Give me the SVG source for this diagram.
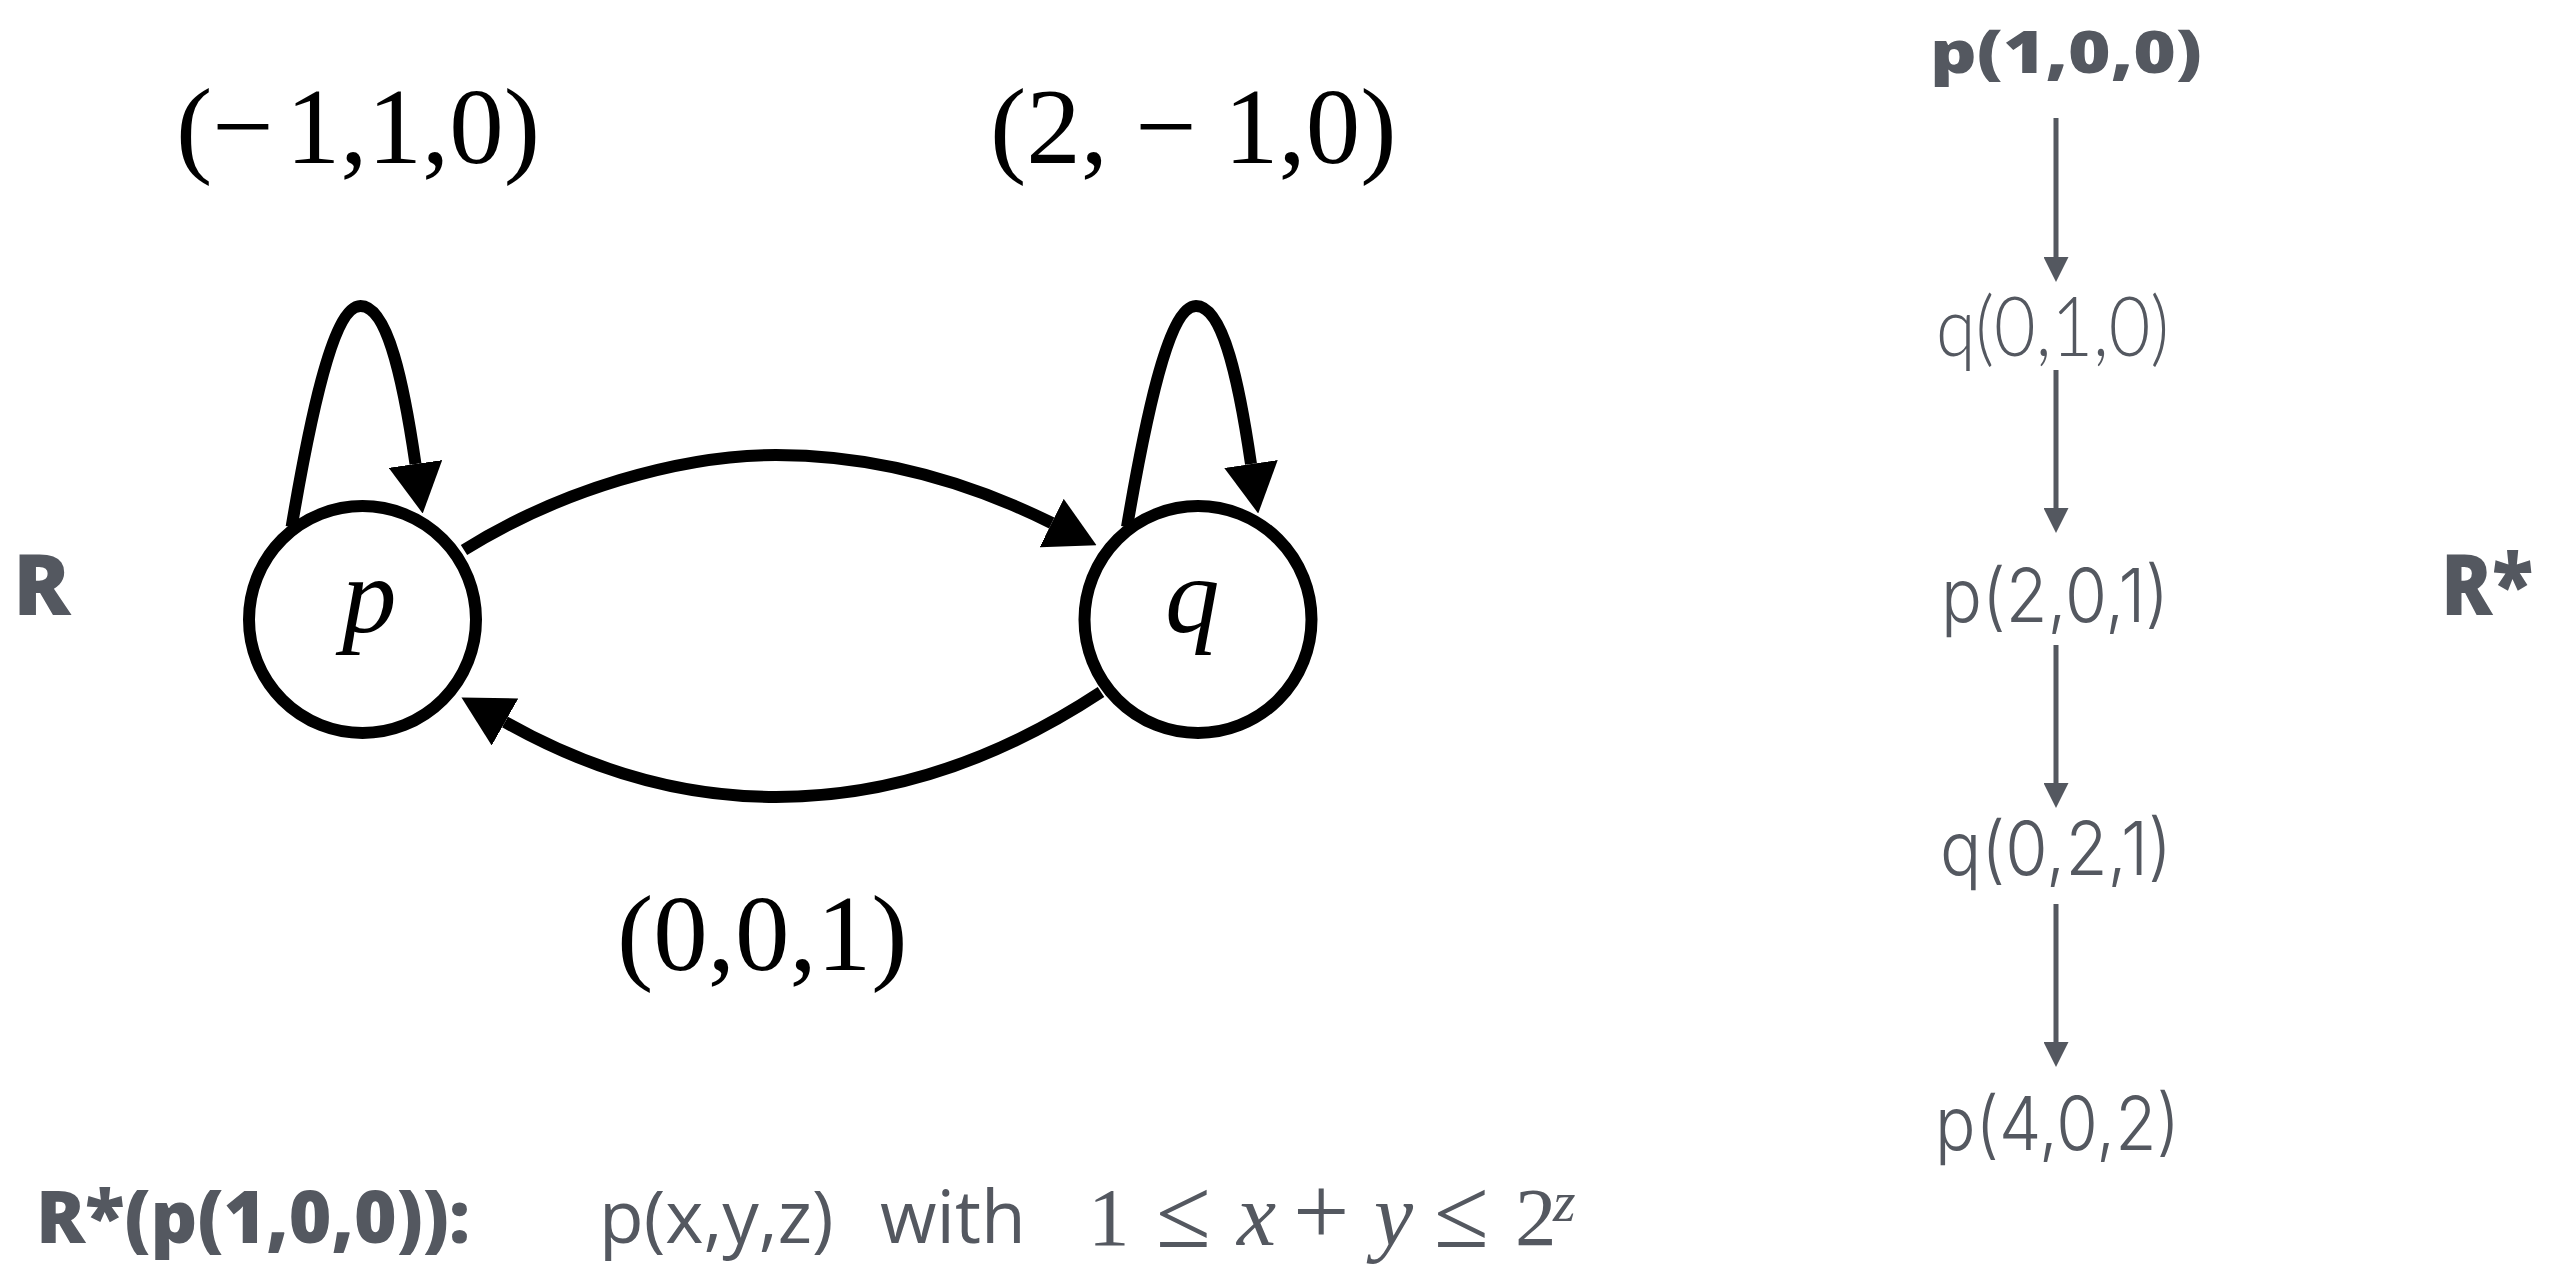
<svg xmlns="http://www.w3.org/2000/svg" width="2561" height="1264" viewBox="0 0 2561 1264">
<style>
.state{fill:#fff;stroke:#000;stroke-width:12}
.edge{fill:none;stroke:#000;stroke-width:12}
.gedge{fill:none;stroke:#545860;stroke-width:5}
.tms{font-family:"Liberation Serif","Times New Roman",serif;font-size:109px;fill:#000}
.it{font-style:italic}
.gray{fill:#545860}
.heavy{font-family:"Open Sans","Noto Sans",sans-serif;font-weight:800}
.light{font-family:Inter,Roboto,"Liberation Sans",sans-serif;font-weight:300;font-size:74px}
.osans{font-family:"Open Sans","Noto Sans",sans-serif}
.math{font-family:"Liberation Serif","Times New Roman",serif;font-size:83px;fill:#545860}
.rel{font-size:100px}
</style>
<defs>
<marker id="ah" markerUnits="userSpaceOnUse" markerWidth="50" markerHeight="54" refX="0" refY="27" orient="auto" viewBox="0 0 50 54"><path d="M0,0 L50,27 L0,54 Z" fill="#000"/></marker>
<marker id="ahg" markerUnits="userSpaceOnUse" markerWidth="25" markerHeight="25" refX="0" refY="12.5" orient="auto" viewBox="0 0 25 25"><path d="M0,0 L25,12.5 L0,25 Z" fill="#545860"/></marker>
</defs>
<rect width="2561" height="1264" fill="#fff"/>

<text id="label-R" class="heavy gray" x="13" y="615" font-size="85">R</text>

<g id="connectors">
<path id="loop-p" class="edge" marker-end="url(#ah)" d="M291.6 527 C308 430 332 306 360.5 306 C388 306 404 385 415.5 464"/>
<path id="loop-q" class="edge" marker-end="url(#ah)" d="M1127 527 C1143.5 430 1167.5 306 1196 306 C1223.5 306 1239.5 385 1251 464"/>
<path id="edge-pq" class="edge" marker-end="url(#ah)" d="M464 550 C560 490 680 455 776 455 C880 455 975 485 1051.7 523"/>
<path id="edge-qp" class="edge" marker-end="url(#ah)" d="M1101 692 C1010 752 900 797 776 797 C680 797 590 770 505 722"/>
<path class="gedge" marker-end="url(#ahg)" d="M2056 118 V257"/>
<path class="gedge" marker-end="url(#ahg)" d="M2056 370 V508"/>
<path class="gedge" marker-end="url(#ahg)" d="M2056 645 V783"/>
<path class="gedge" marker-end="url(#ahg)" d="M2056 904 V1042"/>
</g>

<g id="node-p">
<circle class="state" cx="362.5" cy="619.5" r="113.5"/>
<text class="tms it" x="342" y="632">p</text>
</g>
<g id="node-q">
<circle class="state" cx="1198" cy="619.5" r="113.5"/>
<text class="tms it" x="1165" y="632">q</text>
</g>

<g id="edge-labels">
<text class="tms" x="176" y="163">(−<tspan dx="12">1,1,0)</tspan></text>
<text class="tms" x="990" y="163">(2, − 1,0)</text>
<text class="tms" x="617" y="970">(0,0,1)</text>
</g>

<g id="node-p100"><text class="heavy gray" x="1930" y="73" font-size="58" textLength="272" lengthAdjust="spacingAndGlyphs">p(1,0,0)</text></g>
<g id="node-q010"><text class="gray" font-family="Lato, sans-serif" font-weight="300" x="1936" y="356" font-size="82" textLength="233" lengthAdjust="spacingAndGlyphs">q(0,1,0)</text></g>
<g id="node-p201"><text class="light gray" x="1941" y="622" textLength="228" lengthAdjust="spacingAndGlyphs">p(2,0,1)</text></g>
<g id="node-q021"><text class="light gray" x="1940" y="875" textLength="232" lengthAdjust="spacingAndGlyphs">q(0,2,1)</text></g>
<g id="node-p402"><text class="light gray" x="1935" y="1150" textLength="245" lengthAdjust="spacingAndGlyphs">p(4,0,2)</text></g>

<text id="label-Rstar" class="heavy gray" x="2441" y="615" font-size="85" textLength="92" lengthAdjust="spacingAndGlyphs">R*</text>

<g id="formula">
<text class="heavy gray" x="36" y="1243" font-size="73" textLength="434" lengthAdjust="spacingAndGlyphs">R*(p(1,0,0)):</text>
<text class="osans gray" x="599" y="1243" font-size="73">p(x,y,z)</text>
<text class="osans gray" x="880" y="1243" font-size="73">with</text>
<text class="math"><tspan x="1088" y="1245">1</tspan><tspan class="rel" x="1156" y="1247">≤</tspan><tspan x="1237" y="1245" font-style="italic" font-size="88">x</tspan><tspan class="rel" x="1293" y="1245">+</tspan><tspan x="1374" y="1245" font-style="italic" font-size="88">y</tspan><tspan class="rel" x="1434" y="1247">≤</tspan><tspan x="1515" y="1245">2</tspan><tspan x="1553" y="1221" font-size="58" font-style="italic">z</tspan></text>
</g>
</svg>
